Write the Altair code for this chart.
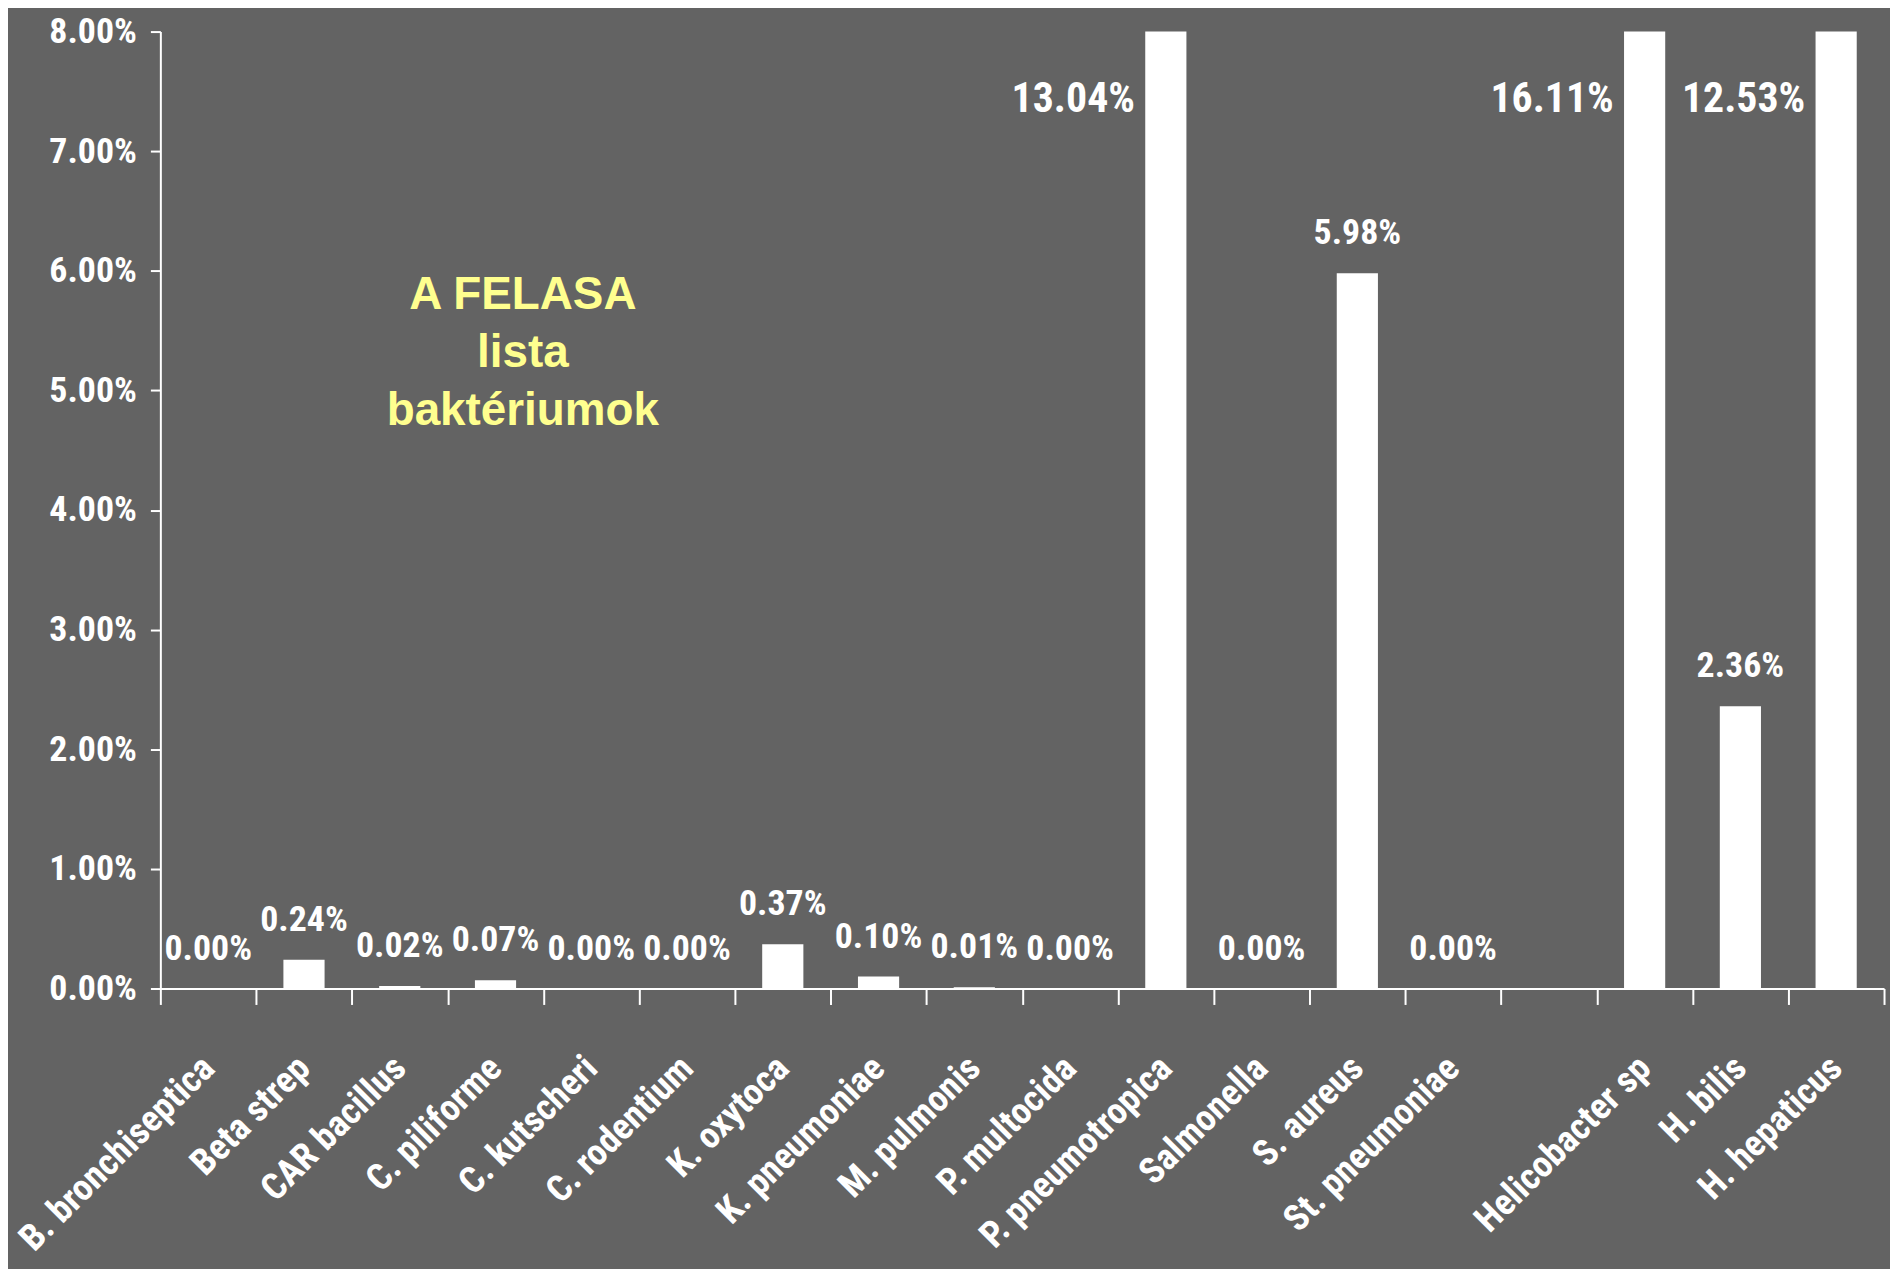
import altair as alt
import pandas as pd

categories = ["B. bronchiseptica", "Beta strep", "CAR bacillus", "C. piliforme",
              "C. kutscheri", "C. rodentium", "K. oxytoca", "K. pneumoniae",
              "M. pulmonis", "P. multocida", "P. pneumotropica", "Salmonella",
              "S. aureus", "St. pneumoniae", " ", "Helicobacter sp", "H. bilis",
              "H. hepaticus"]
values = [0.00, 0.24, 0.02, 0.07, 0.00, 0.00, 0.37, 0.10, 0.01, 0.00, 13.04,
          0.00, 5.98, 0.00, None, 16.11, 2.36, 12.53]
y_ticks = [0, 1, 2, 3, 4, 5, 6, 7, 8]
note_lines = "A FELASA\nlista\nbaktériumok"

df = pd.DataFrame({"cat": categories, "value": values})

NARROW = "Liberation Sans Narrow, Arial Narrow, Roboto Condensed, DejaVu Sans Condensed, sans-serif"
BG = "#636363"

x_scale = alt.Scale(domain=categories, paddingInner=0, paddingOuter=0)
x_enc = alt.X("cat:N", sort=categories, title=None, scale=x_scale,
              axis=alt.Axis(domainColor="white", domainWidth=2, tickColor="white",
                            tickWidth=2, tickSize=16, tickBand="extent",
                            labelAngle=-45, labelAlign="right", labelBaseline="middle",
                            labelFont=NARROW, labelFontWeight="bold", labelFontSize=37,
                            labelColor="white", labelPadding=58, labelLimit=500))
y_scale = alt.Scale(domain=[0, 8], clamp=True, nice=False)
y_enc = alt.Y("value:Q", scale=y_scale, title=None,
              axis=alt.Axis(values=y_ticks, labelExpr="format(datum.value, '.2f') + '%'",
                            domainColor="white", domainWidth=2, tickColor="white",
                            tickWidth=2, tickSize=10, labelPadding=14, grid=False,
                            labelFont=NARROW, labelFontWeight="bold", labelFontSize=36,
                            labelColor="white"))

base = alt.Chart(df)

bars = base.transform_filter("isValid(datum.value)").mark_bar(
    color="white", width=alt.RelativeBandSize(0.43)
).encode(x=x_enc, y=y_enc)

small = base.transform_filter("isValid(datum.value) && datum.value <= 8").transform_calculate(
    lbl="format(datum.value, '.2f') + '%'"
).mark_text(color="white", font=NARROW, fontWeight="bold", fontSize=36,
            baseline="middle", align="center", dy=-40).encode(
    x=alt.X("cat:N", sort=categories, scale=x_scale), y=alt.Y("value:Q"), text="lbl:N")

big = base.transform_filter("isValid(datum.value) && datum.value > 8").transform_calculate(
    lbl="format(datum.value, '.2f') + '%'"
).mark_text(color="white", font=NARROW, fontWeight="bold", fontSize=42,
            baseline="middle", align="right", dx=-31, dy=68).encode(
    x=alt.X("cat:N", sort=categories, scale=x_scale), y=alt.datum(8), text="lbl:N")

note = alt.Chart(pd.DataFrame({"t": [note_lines]})).mark_text(
    color="#FFFF8F", font="Liberation Sans, Arial, sans-serif", fontWeight="bold",
    fontSize=46, lineBreak="\n", lineHeight=58, align="center", baseline="top"
).encode(x=alt.value(364), y=alt.value(243), text="t:N")

chart = alt.layer(bars, small, big, note).properties(
    width=1731, height=961,
    autosize=alt.AutoSizeParams(type="none"),
    padding={"left": 153, "top": 21, "right": 6, "bottom": 279},
    background=BG
).configure_view(stroke=None)

chart.save("out.html", embed_options={"renderer": "svg", "actions": False})
